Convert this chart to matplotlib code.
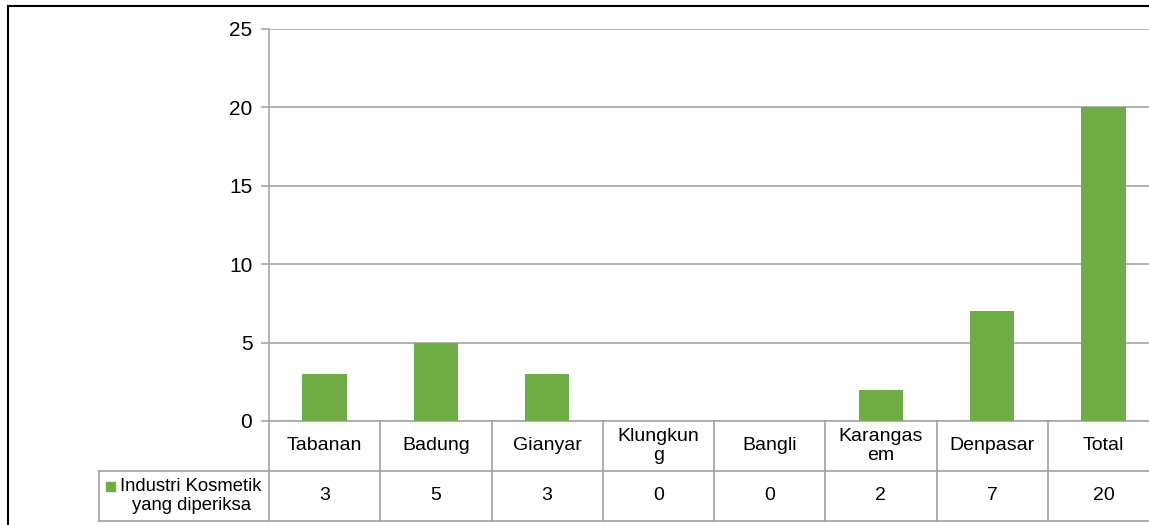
import matplotlib.pyplot as plt
from matplotlib import rc
from matplotlib.lines import Line2D
from matplotlib.patches import Rectangle
import matplotlib.transforms as mtransforms

rc('font', **{'family': 'sans-serif', 'sans-serif': ['Liberation Sans'], 'size': 14})

categories = ["Tabanan", "Badung", "Gianyar", "Klungkun\ng", "Bangli", "Karangas\nem", "Denpasar", "Total"]
values = [3, 5, 3, 0, 0, 2, 7, 20]
series_name = "Industri Kosmetik\nyang diperiksa"
yticks = [0, 5, 10, 15, 20, 25]

green = "#70AD47"
grid_col = "#A6A6A6"
line_col = "#A0A0A0"

W, H = 1149, 525
fig = plt.figure(figsize=(W / 100, H / 100), dpi=100)

# pixel helpers (from top-left)
def fx(px):
    return px / W

def fy(py):
    return 1 - py / H

ax_left, ax_right, ax_top, ax_bot = 269, 1159, 29, 421
ax = fig.add_axes([fx(ax_left), fy(ax_bot), fx(ax_right - ax_left), fy(ax_top) - fy(ax_bot)])

x = list(range(len(categories)))
ax.bar(x, values, width=0.4, color=green, zorder=3)
ax.set_xlim(-0.5, len(categories) - 0.5)
ax.set_ylim(0, 25)
ax.set_yticks(yticks)
ax.set_xticks([])
ax.grid(axis='y', color=grid_col, linewidth=1.2, zorder=0)
for s in ['top', 'right']:
    ax.spines[s].set_visible(False)
for s in ['left', 'bottom']:
    ax.spines[s].set_color(grid_col)
    ax.spines[s].set_linewidth(1.2)
ax.tick_params(axis='y', length=6, width=1.2, color=grid_col, labelsize=15, pad=6)

# data table below the axis
tr = mtransforms.blended_transform_factory(ax.transData, fig.transFigure)
row1_top, row1_bot, row2_bot = ax_bot, 471, 521
leg_left = 99

for i in range(len(categories) + 1):
    fig.add_artist(Line2D([i - 0.5, i - 0.5], [fy(row1_top), fy(row2_bot)],
                          transform=tr, color=line_col, lw=1.2))
fig.add_artist(Line2D([fx(leg_left), fx(ax_right)], [fy(row1_bot), fy(row1_bot)],
                      transform=fig.transFigure, color=line_col, lw=1.2))
fig.add_artist(Line2D([fx(leg_left), fx(ax_right)], [fy(row2_bot), fy(row2_bot)],
                      transform=fig.transFigure, color=line_col, lw=1.2))
fig.add_artist(Line2D([fx(leg_left), fx(leg_left)], [fy(row1_bot), fy(row2_bot)],
                      transform=fig.transFigure, color=line_col, lw=1.2))

for i, (c, v) in enumerate(zip(categories, values)):
    fig.text(i, fy((row1_top + row1_bot) / 2), c, transform=tr,
             ha='center', va='center', multialignment='center', linespacing=1.2)
    fig.text(i, fy((row1_bot + row2_bot) / 2), str(v), transform=tr,
             ha='center', va='center')

# legend key inside table
fig.add_artist(Rectangle((fx(106), fy(491)), fx(9), fy(482) - fy(491),
                         transform=fig.transFigure, color=green))
fig.text(fx(191), fy((row1_bot + row2_bot) / 2), series_name, fontsize=13.3,
         ha='center', va='center', multialignment='center', linespacing=1.1)

# outer chart border (top and left visible)
fig.add_artist(Line2D([fx(8), fx(8)], [fy(6), 0], transform=fig.transFigure, color='black', lw=1.5))
fig.add_artist(Line2D([fx(8), 1], [fy(6), fy(6)], transform=fig.transFigure, color='black', lw=1.5))

fig.savefig("out.png", dpi=100)
